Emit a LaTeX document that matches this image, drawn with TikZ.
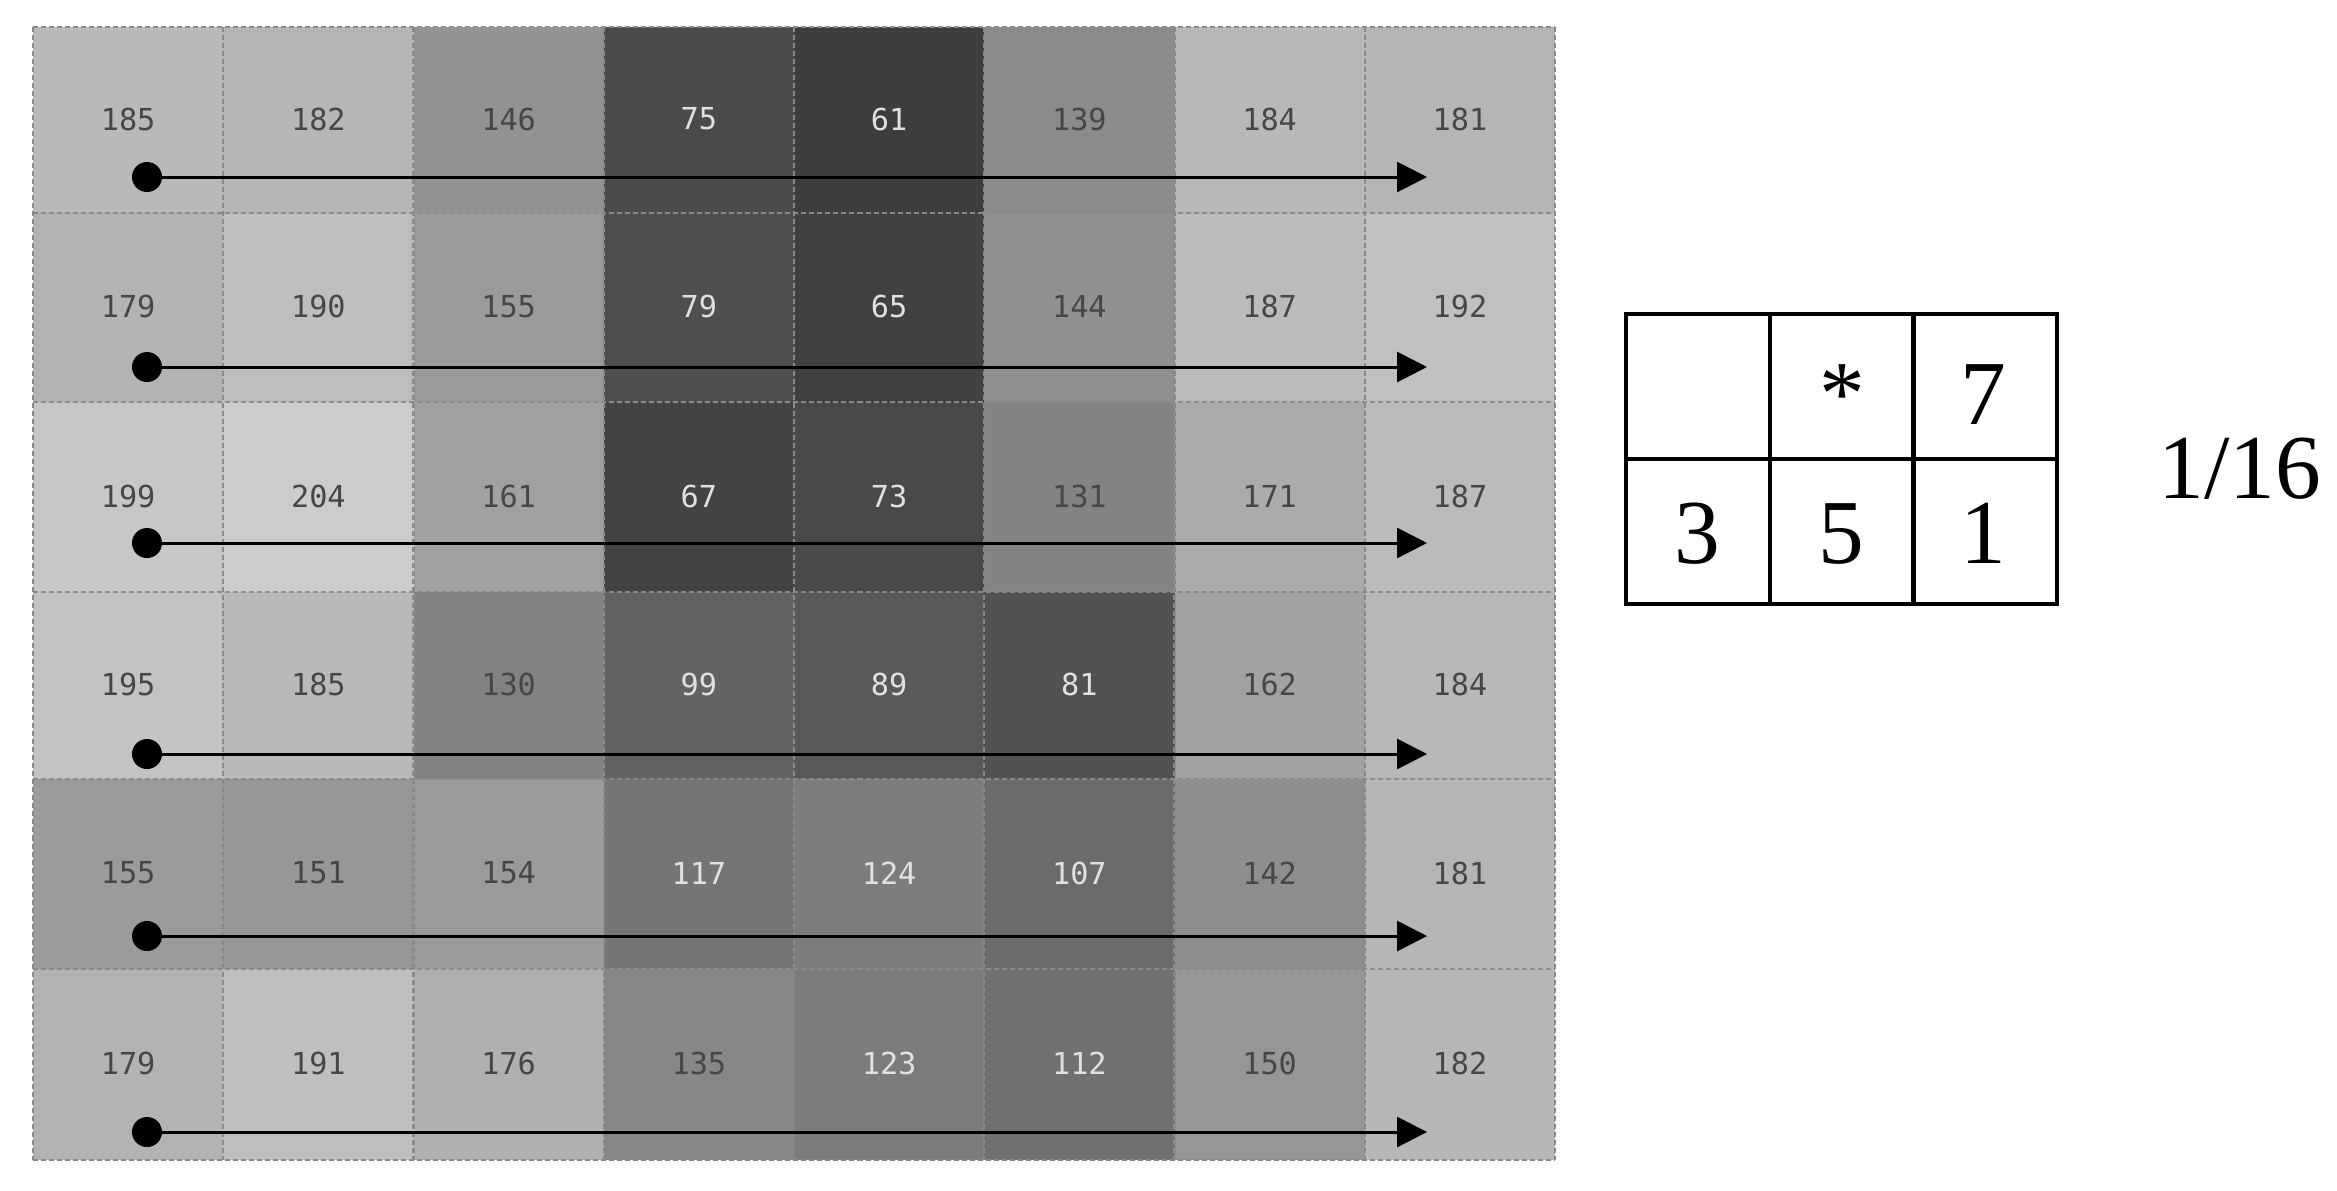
\documentclass[tikz,border=0pt]{standalone}
\usepackage{fontspec}
\setmainfont{Liberation Serif}
\newfontfamily\cellfont{DejaVu Sans Mono}
\usetikzlibrary{arrows.meta}
\definecolor{gridline}{RGB}{138,138,138}
\definecolor{darktxt}{RGB}{70,70,70}
\definecolor{lighttxt}{RGB}{225,225,225}
\begin{document}
\begin{tikzpicture}[x=0.01cm,y=-0.01cm,
  numtxt/.style={inner sep=0pt, font=\cellfont\fontsize{8.6}{10}\selectfont},
  dotnode/.style={circle, fill=black, inner sep=0pt, minimum size=0.3cm},
  scanarrow/.style={line width=0.85pt, -{Triangle[length=0.3cm,width=0.3cm]}},
  gridstyle/.style={draw=gridline, line width=0.7pt, dash pattern=on 0.05cm off 0.03cm},
  kcell/.style={draw=black, line width=1.2pt, minimum width=1.437cm, minimum height=1.45cm, inner sep=0pt},
  ktxt/.style={inner sep=0pt, anchor=base, font=\fontsize{26}{30}\selectfont}]
\useasboundingbox (0,0) rectangle (2337,1190);
% cell fills and numbers
\foreach \r/\yt/\yb/\ya/\vals in {
  1/27/213/177/{185,182,146,75,61,139,184,181},
  2/213/402/367/{179,190,155,79,65,144,187,192},
  3/402/592/543/{199,204,161,67,73,131,171,187},
  4/592/779/754/{195,185,130,99,89,81,162,184},
  5/779/969/936/{155,151,154,117,124,107,142,181},
  6/969/1160/1132/{179,191,176,135,123,112,150,182}}{
  \foreach \v [count=\c] in \vals {
    \definecolor{cellc}{RGB}{\v,\v,\v}
    \ifnum\v<128 \colorlet{tc}{lighttxt}\else\colorlet{tc}{darktxt}\fi
    \pgfmathsetmacro{\xl}{33+190.25*(\c-1)}
    \pgfmathsetmacro{\xr}{33+190.25*\c}
    \fill[cellc] (\xl,\yt) rectangle (\xr,\yb);
    \node[numtxt, text=tc] (n\r-\c) at ({(\xl+\xr)/2},{(\yt+\yb)/2-1}) {\v};
  }
}
% dashed grid lines
\foreach \yy in {27,213,402,592,779,969,1160}
  \draw[gridstyle] (33,\yy) -- (1555,\yy);
\foreach \i in {0,...,8}
  \draw[gridstyle] ({33+190.25*\i},27) -- ({33+190.25*\i},1160);
% scan arrows
\foreach \r/\ya in {1/177,2/367,3/543,4/754,5/936,6/1132}{
  \node[dotnode] (dot\r) at (147,\ya) {};
  \coordinate (end\r) at (1427,\ya);
  \draw[scanarrow] (dot\r.center) -- (end\r);
}
% error diffusion kernel
\node[kcell] (k11) at (1697.8,386.5) {};
\node[kcell] (k12) at (1841.5,386.5) {};
\node[kcell] (k13) at (1985.2,386.5) {};
\node[kcell] (k21) at (1697.8,531.5) {};
\node[kcell] (k22) at (1841.5,531.5) {};
\node[kcell] (k23) at (1985.2,531.5) {};
\node[ktxt] (kast) at (1842,424.5) {*};
\node[ktxt] (k7) at (1983,424.5) {7};
\node[ktxt] (k3) at (1697,563.5) {3};
\node[ktxt] (k5) at (1841,563.5) {5};
\node[ktxt] (k1) at (1983,563.5) {1};
\node[ktxt] (kfrac) at (2240,498) {1/16};
\end{tikzpicture}
\end{document}
